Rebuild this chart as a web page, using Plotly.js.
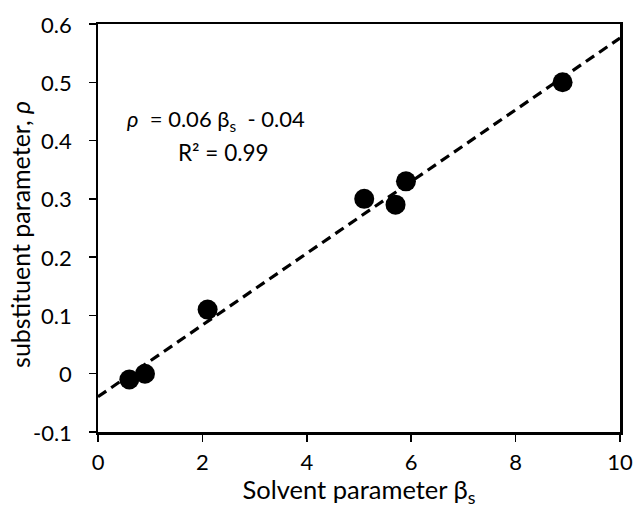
<!DOCTYPE html>
<html>
<head>
<meta charset="utf-8">
<script src="https://cdn.plot.ly/plotly-3.0.1.min.js"></script>
<style>html,body{margin:0;padding:0;background:#fff;}#chart{width:634px;height:508px;}</style>
</head>
<body>
<div id="chart"></div>
<script>
var betaS = [0.6, 0.9, 2.1, 5.1, 5.7, 5.9, 8.9];
var rho = [-0.01, 0.0, 0.11, 0.30, 0.29, 0.33, 0.50];
var xTicks = [0, 2, 4, 6, 8, 10];
var yTicks = [-0.1, 0, 0.1, 0.2, 0.3, 0.4, 0.5, 0.6];
var yTickText = ['-0.1', '0', '0.1', '0.2', '0.3', '0.4', '0.5', '0.6'];
var xTitle = 'Solvent parameter β<sub>s</sub>';
var yTitle = 'substituent parameter, <i>ρ</i>';
var fitRange = [0, 10];

// least-squares fit
var n = betaS.length;
var mx = betaS.reduce(function(a,b){return a+b;},0)/n;
var my = rho.reduce(function(a,b){return a+b;},0)/n;
var sxy = 0, sxx = 0;
for (var i=0;i<n;i++){ sxy += (betaS[i]-mx)*(rho[i]-my); sxx += (betaS[i]-mx)*(betaS[i]-mx); }
var slope = sxy/sxx, icpt = my - slope*mx;
var fitY = fitRange.map(function(x){return slope*x+icpt;});

var font = "Lato, 'Open Sans', sans-serif";
var fs = 22;
var data = [
  {x: fitRange, y: fitY, mode: 'lines', line: {color: '#000', width: 3.2, dash: '10px,6px'}, hoverinfo: 'skip', showlegend: false},
  {x: betaS, y: rho, mode: 'markers', marker: {color: '#000', size: 20}, showlegend: false}
];

// y tick labels placed on the y axis scale
var anns = yTicks.map(function(v, i){
  return {xref: 'paper', yref: 'y', x: 0, y: v, xanchor: 'right', yanchor: 'middle', xshift: -24,
          showarrow: false, text: yTickText[i], font: {size: fs, family: font}};
});
anns.push({xref: 'paper', yref: 'paper', x: 0, y: 0.483, xshift: -78, xanchor: 'center', yanchor: 'middle',
           textangle: -90, showarrow: false, text: yTitle, font: {size: 25, family: font}});
anns.push({xref: 'paper', yref: 'paper', x: 0.052, y: 0.765, xanchor: 'left', yanchor: 'middle', showarrow: false,
           text: '<i>ρ</i>&nbsp; = 0.06 β<sub>s</sub>&nbsp; - 0.04', font: {size: 22, family: font}});
anns.push({xref: 'paper', yref: 'paper', x: 0.15, y: 0.685, xanchor: 'left', yanchor: 'middle', showarrow: false,
           text: 'R² = 0.99', font: {size: 22.5, family: font}});

var layout = {
  width: 634, height: 508,
  margin: {l: 98, r: 14, t: 24, b: 76},
  paper_bgcolor: '#fff', plot_bgcolor: '#fff',
  font: {family: font, size: fs, color: '#000'},
  xaxis: {
    range: [0, 10], tickvals: xTicks, ticktext: xTicks.map(String),
    ticks: 'outside', ticklen: 7, tickwidth: 1.5, tickcolor: '#000',
    showline: true, linecolor: '#000', linewidth: 2.5, mirror: true,
    showgrid: false, zeroline: false, ticklabelstandoff: 2,
    tickfont: {size: fs, family: font},
    title: {text: xTitle, font: {size: 25.5, family: font}, standoff: 0}
  },
  yaxis: {
    range: [-0.1, 0.6], tickvals: yTicks, showticklabels: false,
    ticks: 'outside', ticklen: 7, tickwidth: 1.5, tickcolor: '#000',
    showline: true, linecolor: '#000', linewidth: 2.5, mirror: true,
    showgrid: false, zeroline: false
  },
  annotations: anns
};
Plotly.newPlot('chart', data, layout, {displayModeBar: false, staticPlot: true});
</script>
</body>
</html>
